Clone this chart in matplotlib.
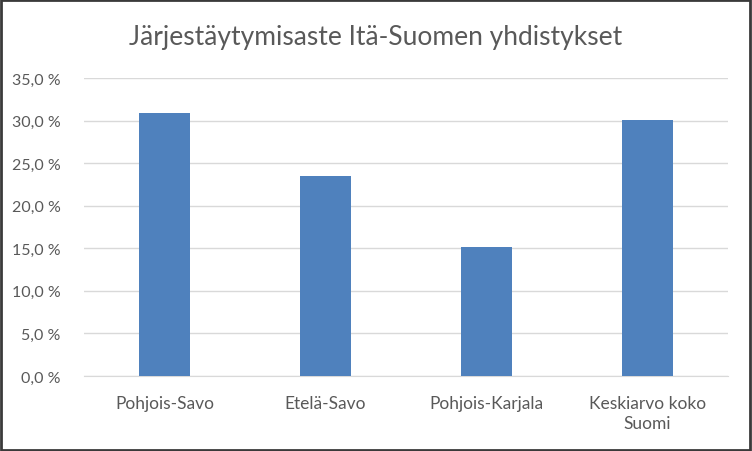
import matplotlib
matplotlib.use("Agg")
import matplotlib.pyplot as plt
from matplotlib.ticker import FuncFormatter
from matplotlib.patches import Rectangle

# ── data ─────────────────────────────────────────────────────────────────────
categories = ["Pohjois-Savo", "Etelä-Savo", "Pohjois-Karjala", "Keskiarvo koko\nSuomi"]
values = [30.9, 23.5, 15.2, 30.1]
y_ticks = [0, 5, 10, 15, 20, 25, 30, 35]

title = "Järjestäytymisaste Itä-Suomen yhdistykset"
bar_colour = "#4f81bd"
text_colour = "#595959"

plt.rcParams["font.family"] = ["Lato", "DejaVu Sans"]

fig = plt.figure(figsize=(7.52, 4.52), dpi=100)
ax = fig.add_axes([84 / 752, 1 - 377 / 452, (728 - 84) / 752, (377 - 79) / 452])

x = range(len(categories))
ax.bar(x, values, width=0.32, color=bar_colour, zorder=3)

ax.set_xlim(-0.5, len(categories) - 0.5)
ax.set_ylim(0, 35)
ax.set_yticks(y_ticks)
ax.yaxis.set_major_formatter(FuncFormatter(lambda v, p: f"{v:.1f}".replace(".", ",") + " %"))
ax.set_xticks(list(x))
ax.set_xticklabels(categories, linespacing=1.3)

ax.grid(axis="y", color="#d9d9d9", linewidth=1.0, zorder=0)
for s in ["top", "right", "left"]:
    ax.spines[s].set_visible(False)
ax.spines["bottom"].set_color("#d9d9d9")
ax.tick_params(axis="both", length=0, colors=text_colour)
ax.tick_params(axis="y", pad=17, labelsize=11.5)
ax.tick_params(axis="x", pad=14, labelsize=12.5)

fig.text(0.5, 1 - 38 / 452, title, ha="center", va="center",
         fontsize=19, color=text_colour)

# outer frame
fig.patches.append(Rectangle((0.001, 0.002), 0.997, 0.996, transform=fig.transFigure,
                             fill=False, edgecolor="#3a3a3a", linewidth=2))

fig.savefig("out.png", dpi=100)
